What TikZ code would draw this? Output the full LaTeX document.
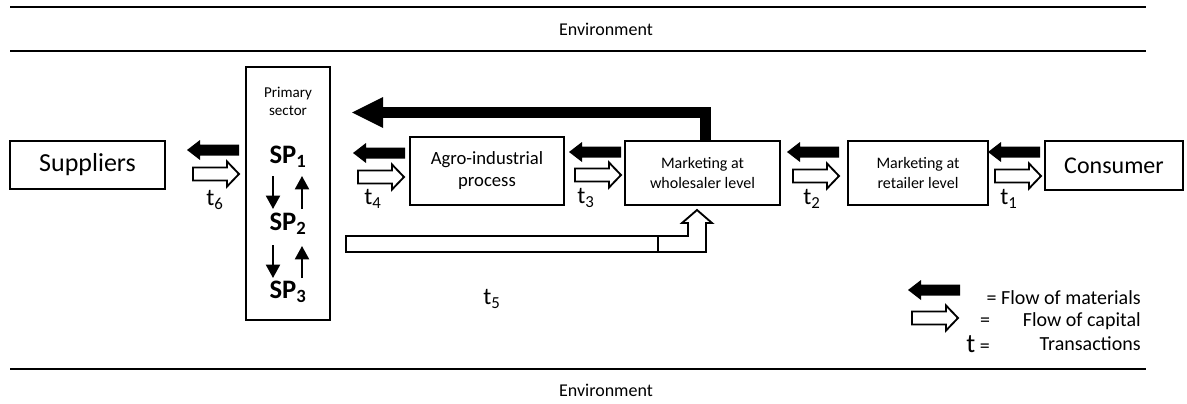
\documentclass[tikz,border=0pt]{standalone}
\usepackage{fontspec}
\setmainfont{Carlito}
\usetikzlibrary{arrows.meta,calc}

\begin{document}
\begin{tikzpicture}[x=0.75pt,y=-0.75pt,
  wh/.style 2 args={minimum width=#1*0.75pt, minimum height=#2*0.75pt},
  box/.style={draw, line width=1.4pt, inner sep=0pt, align=center},
  envline/.style={line width=2pt},
  envtxt/.style={font=\fontsize{13.5pt}{16pt}\selectfont},
  bigtxt/.style={font=\fontsize{19.5pt}{22pt}\selectfont},
  constxt/.style={font=\fontsize{18pt}{21pt}\selectfont},
  midtxt/.style={font=\fontsize{14pt}{16.5pt}\selectfont},
  mkttxt/.style={font=\fontsize{12pt}{15pt}\selectfont},
  smalltxt/.style={font=\fontsize{11.3pt}{13.5pt}\selectfont, align=center},
  sptxt/.style={font=\fontsize{20pt}{22pt}\selectfont\bfseries, inner sep=0pt},
  ttxt/.style={font=\fontsize{18pt}{20pt}\selectfont, inner sep=0pt},
  legtxt/.style={font=\fontsize{15pt}{18pt}\selectfont, inner sep=0pt},
  updown/.style={line width=1.5pt, -{Triangle[width=10.5pt,length=10pt]}},
  matarrow/.pic={\fill[black] (0,-5.5) -- (-39,-5.5) -- (-39,-10) -- (-52,0)
        -- (-39,10) -- (-39,5.5) -- (0,5.5) -- cycle;},
  caparrow/.pic={\draw[line width=1.4pt, fill=white, line join=miter]
        (0,-6.5) -- (34,-6.5) -- (34,-12.5) -- (46,0) -- (34,12.5)
        -- (34,6.5) -- (0,6.5) -- cycle;}
]
\useasboundingbox (0,0) rectangle (1187,403);

% environment bands
\draw[envline] (10,7) -- (1146,7);
\draw[envline] (10,51) -- (1146,51);
\draw[envline] (10,369) -- (1146,369);
\node[envtxt] (envtop) at (606,29) {Environment};
\node[envtxt] (envbot) at (606,390) {Environment};

% actors of the chain
\node[box, wh={155}{48}, bigtxt] (sup) at (87.5,165) {Suppliers};
\node[box, wh={84}{253}] (prim) at (288,193.5) {};
\node[smalltxt] (primlbl) at (288,101) {Primary\\sector};
\node[sptxt] (sp1) at (288,157) {SP\textsubscript{1}};
\node[sptxt] (sp2) at (288,224) {SP\textsubscript{2}};
\node[sptxt] (sp3) at (288,292) {SP\textsubscript{3}};
\node[box, wh={154}{68}, midtxt] (agro) at (487,171) {Agro-industrial\\process};
\node[box, wh={155}{64}, mkttxt] (whole) at (702.5,173) {Marketing at\\wholesaler level};
\node[box, wh={140}{64}, mkttxt] (ret) at (918,173) {Marketing at\\retailer level};
\node[box, wh={138}{49}, constxt] (cons) at (1114,165.5) {Consumer};

% flows inside the primary sector
\coordinate (d1a) at (273,176); \coordinate (d1b) at (273,209);
\coordinate (u1a) at (302,209); \coordinate (u1b) at (302,176);
\coordinate (d2a) at (273,245); \coordinate (d2b) at (273,278);
\coordinate (u2a) at (302,278); \coordinate (u2b) at (302,246);
\draw[updown] (d1a) -- (d1b);
\draw[updown] (u1a) -- (u1b);
\draw[updown] (d2a) -- (d2b);
\draw[updown] (u2a) -- (u2b);

% transactions between neighbours
\pic at (239,150) {matarrow};  \pic at (193,174) {caparrow};
\node[ttxt] (t6) at (215,200) {t\textsubscript{6}};
\pic at (405,153) {matarrow};  \pic at (358,177) {caparrow};
\node[ttxt] (t4) at (373,199) {t\textsubscript{4}};
\pic at (621,152) {matarrow};  \pic at (575,175) {caparrow};
\node[ttxt] (t3) at (586,198) {t\textsubscript{3}};
\pic at (839,152) {matarrow};  \pic at (793,176) {caparrow};
\node[ttxt] (t2) at (812,199) {t\textsubscript{2}};
\pic at (1040,152) {matarrow}; \pic at (995,176) {caparrow};
\node[ttxt] (t1) at (1009,199) {t\textsubscript{1}};

% materials from the wholesaler back to the primary sector
\coordinate (fbstart) at ($(whole.north west)+(81,0)$);
\coordinate (fbtip) at (352,112.5);
\draw[line width=8.2pt, line join=miter] (fbstart) |- ($(fbtip)+(31,0)$);
\fill[black] ($(fbtip)+(31,-15.5)$) -- (fbtip) -- ($(fbtip)+(31,15.5)$) -- cycle;

% capital from the primary sector straight to the wholesaler (t5)
\draw[line width=1.4pt] (346,236) rectangle (658,252);
\draw[line width=1.4pt, line join=miter] (658,236) -- (688,236) -- (688,223)
  -- (682,223) -- (697,210) -- (712,223) -- (706,223) -- (706,252) -- (658,252);
\node[ttxt] (t5) at (492,299) {t\textsubscript{5}};

% legend
\pic at (960,290) {matarrow};
\node[legtxt, anchor=east] (legmat) at (1141,298) {= Flow of materials};
\pic at (912,318) {caparrow};
\node[legtxt] (legeq) at (985,322) {=};
\node[legtxt, anchor=east] (legcap) at (1141,321) {Flow of capital};
\node[legtxt, anchor=east] (legt) at (990,344) {{\fontsize{20pt}{20pt}\selectfont t} =};
\node[legtxt, anchor=east] (legtr) at (1141,344) {Transactions};
\end{tikzpicture}
\end{document}
